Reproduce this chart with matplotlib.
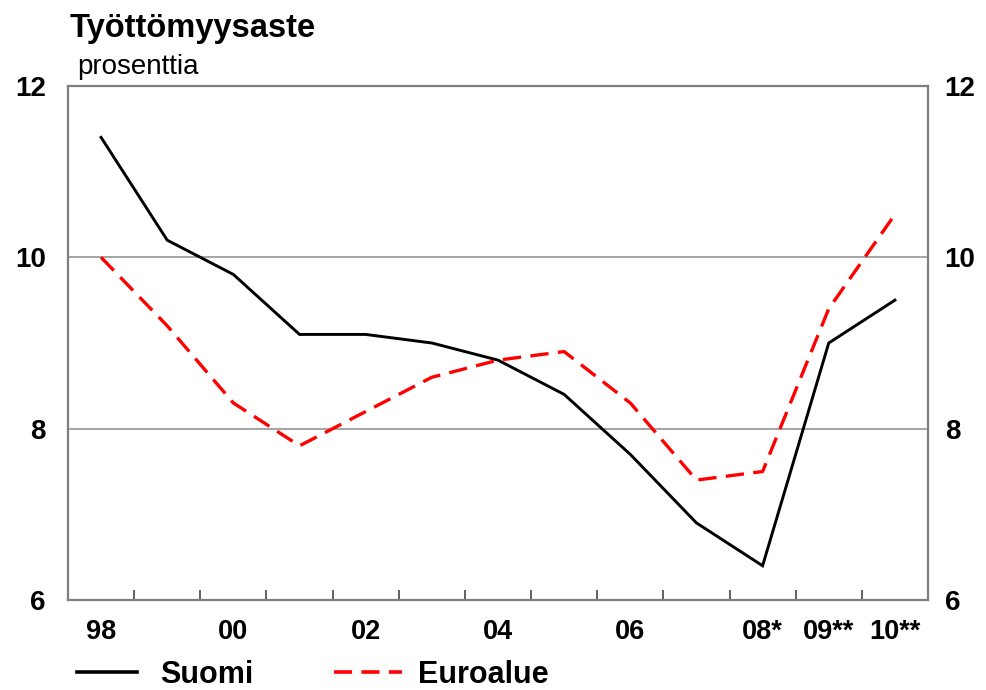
#!/usr/bin/env python3
"""
Työttömyysaste: Suomi vs. euroalue, 1998-2010 (prosenttia).
"""

import matplotlib
matplotlib.use("Agg")
import matplotlib.pyplot as plt

# -----------------------------------------------------------------------------
# DATA
# -----------------------------------------------------------------------------
years = ["98", "99", "00", "01", "02", "03", "04", "05", "06", "07", "08*", "09**", "10**"]
year_labels = ["98", "", "00", "", "02", "", "04", "", "06", "", "08*", "09**", "10**"]
suomi = [11.4, 10.2, 9.8, 9.1, 9.1, 9.0, 8.8, 8.4, 7.7, 6.9, 6.4, 9.0, 9.5]
euroalue = [10.0, 9.2, 8.3, 7.8, 8.2, 8.6, 8.8, 8.9, 8.3, 7.4, 7.5, 9.4, 10.5]
y_ticks = [6, 8, 10, 12]

# -----------------------------------------------------------------------------
plt.rcParams["font.family"] = ["Liberation Sans", "DejaVu Sans"]

fig = plt.figure(figsize=(9.87, 6.9), dpi=100)
ax = fig.add_axes([0.0689, 0.1304, 0.8713, 0.745])

x = list(range(len(years)))
ax.plot(x, suomi, color="black", lw=2.1, solid_joinstyle="miter", zorder=3)
ax.plot(x, euroalue, color="#ff0000", lw=2.4, linestyle=(0, (5.5, 2.8)), zorder=3)

ax.set_xlim(-0.5, len(years) - 0.5)
ax.set_ylim(6, 12)

# horizontal grid lines only inside the frame
for yv in y_ticks[1:-1]:
    ax.axhline(yv, color="#8c8c8c", lw=1.1, zorder=1)

for s in ax.spines.values():
    s.set_color("#7f7f7f")
    s.set_linewidth(1.6)

# x axis: tick marks between categories, labels at category centres
ax.set_xticks([i + 0.5 for i in range(len(years) - 1)])
ax.set_xticklabels([])
ax.tick_params(axis="x", which="major", direction="in", length=7, width=1.3,
               color="#555555")
ax.set_xticks(x, minor=True)
ax.set_xticklabels(year_labels, minor=True, fontsize=19.5, fontweight="bold")
ax.tick_params(axis="x", which="minor", length=0, pad=14)

# y axis labels on both sides, no tick marks
ax.set_yticks(y_ticks)
ax.set_yticklabels([str(v) for v in y_ticks], fontsize=20, fontweight="bold")
ax.tick_params(axis="y", length=0, pad=16)

right = ax.secondary_yaxis("right")
right.set_yticks(y_ticks)
right.set_yticklabels([str(v) for v in y_ticks], fontsize=20, fontweight="bold")
right.tick_params(length=0, pad=12)
right.spines["right"].set_visible(False)

# title and unit
fig.text(70 / 987, 1 - 28 / 690, "Työttömyysaste", fontsize=23.5, fontweight="bold",
         ha="left", va="center")
fig.text(77 / 987, 1 - 67 / 690, "prosenttia", fontsize=20, ha="left", va="center")

# legend drawn by hand below the axis
ly = 1 - 672 / 690
fig.add_artist(plt.Line2D([77 / 987, 137 / 987], [ly, ly], color="black", lw=2.6))
fig.text(160 / 987, 1 - 675 / 690, "Suomi", fontsize=22, fontweight="bold",
         ha="left", va="center")
fig.add_artist(plt.Line2D([334 / 987, 402 / 987], [ly, ly], color="#ff0000", lw=2.6,
                          linestyle=(0, (5.0, 2.6))))
fig.text(418 / 987, 1 - 675 / 690, "Euroalue", fontsize=22, fontweight="bold",
         ha="left", va="center")

fig.savefig("out.png", dpi=100)
